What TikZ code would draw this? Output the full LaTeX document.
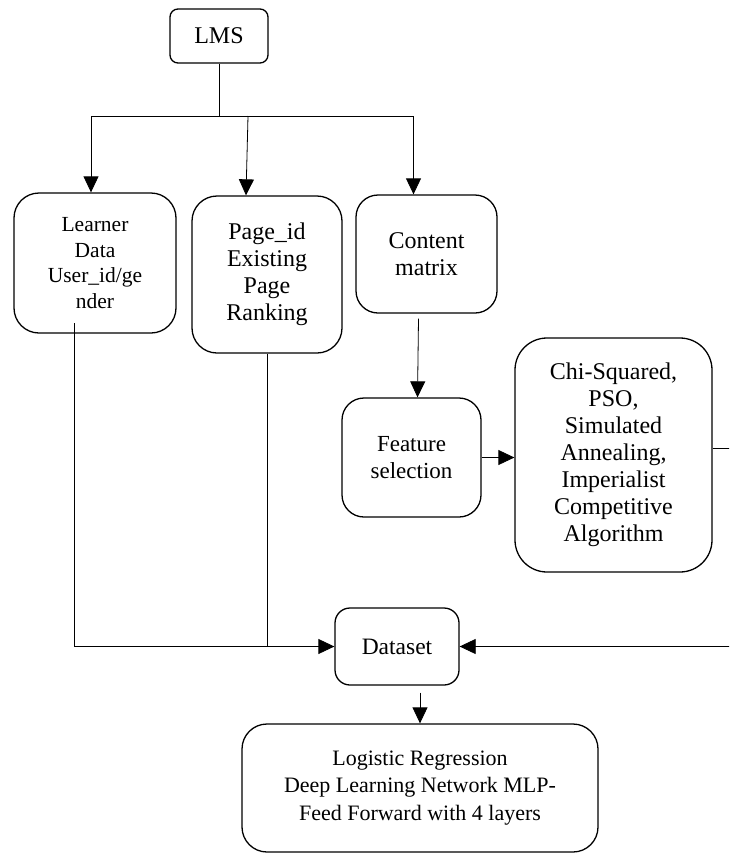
\documentclass[tikz,border=0pt]{standalone}
\usepackage{fontspec}
\setmainfont{Liberation Serif}
\usetikzlibrary{arrows.meta}
\newcommand\fsz[2]{\fontsize{#1}{#2}\selectfont}
\tikzset{flowpx/.style={x=1pt,y=-1pt,font=\fsz{23}{27}}}
\tikzset{blk/.style={draw,line width=1.3pt,align=center,inner sep=0pt},
         conn/.style={line width=0.8pt},
         arr/.style={conn,-{Triangle[width=15pt,length=16pt]}}}

\begin{document}
\begin{tikzpicture}[flowpx]
    \useasboundingbox (0,0) rectangle (729,854);
    \clip (0,0) rectangle (729,854);
    \node[blk,rounded corners=8pt,minimum width=98pt,minimum height=54pt,font=\fsz{24}{27}] (lms) at (219,36) {LMS};
    \node[blk,rounded corners=25pt,minimum width=162pt,minimum height=140pt,
          font=\fsz{21.5}{25.5}] (learner) at (95,263) {Learner\\Data\\User\_id/ge\\nder};
    \node[blk,rounded corners=25pt,minimum width=150pt,minimum height=157pt,font=\fsz{24}{27}] (page) at (267,274.5) {Page\_id\\Existing\\Page\\Ranking};
    \node[blk,rounded corners=22pt,minimum width=141pt,minimum height=118pt,font=\fsz{24}{27}] (content) at (426.5,254) {Content\\matrix};
    \node[blk,rounded corners=22pt,minimum width=139pt,minimum height=119pt] (feature) at (411.5,457.5) {Feature\\selection};
    \node[blk,rounded corners=32pt,minimum width=197pt,minimum height=234pt,font=\fsz{24}{27}] (chi) at (613.5,455)
        {Chi-Squared,\\PSO,\\Simulated\\Annealing,\\Imperialist\\Competitive\\Algorithm};
    \node[blk,rounded corners=15pt,minimum width=124pt,minimum height=77pt,font=\fsz{23.5}{27}] (dataset) at (397,646.5) {Dataset};
    \node[blk,rounded corners=25pt,minimum width=356pt,minimum height=128pt,font=\fsz{22}{27.5}] (model) at (420,788)
        {Logistic Regression\\Deep Learning Network MLP-\\Feed Forward with 4 layers};
    % LMS fans out to the three sources
    \coordinate (split) at (219,116);
    \coordinate (lstub) at (74,323);
    \draw[conn] (lms.south) -- (split);
    \draw[conn] ([xshift=-4pt]learner.north |- split) -- ([xshift=-13pt]content.north |- split);
    \draw[arr] ([xshift=-4pt]learner.north |- split) -- ([xshift=-4pt]learner.north);
    \draw[arr] ([xshift=-19pt]page.north |- split) -- ([xshift=-21pt]page.north);
    \draw[arr] ([xshift=-13pt]content.north |- split) -- ([xshift=-13pt]content.north);
    % feature selection branch
    \draw[arr] ([xshift=-8pt,yshift=-5pt]content.south) -- ([xshift=6pt]feature.north);
    \draw[arr] (feature.east) -- (feature.east -| chi.west);
    \draw[arr] ([yshift=7pt]chi.east) -- ++(25,0) |- (dataset.east);
    % sources into dataset
    \draw[arr] (lstub) |- (dataset.west);
    \draw[conn] (page.south) -- (page.south |- dataset.west);
    \draw[arr] ([xshift=23pt,yshift=-7pt]dataset.south) -- (model.north);
\end{tikzpicture}
\end{document}
